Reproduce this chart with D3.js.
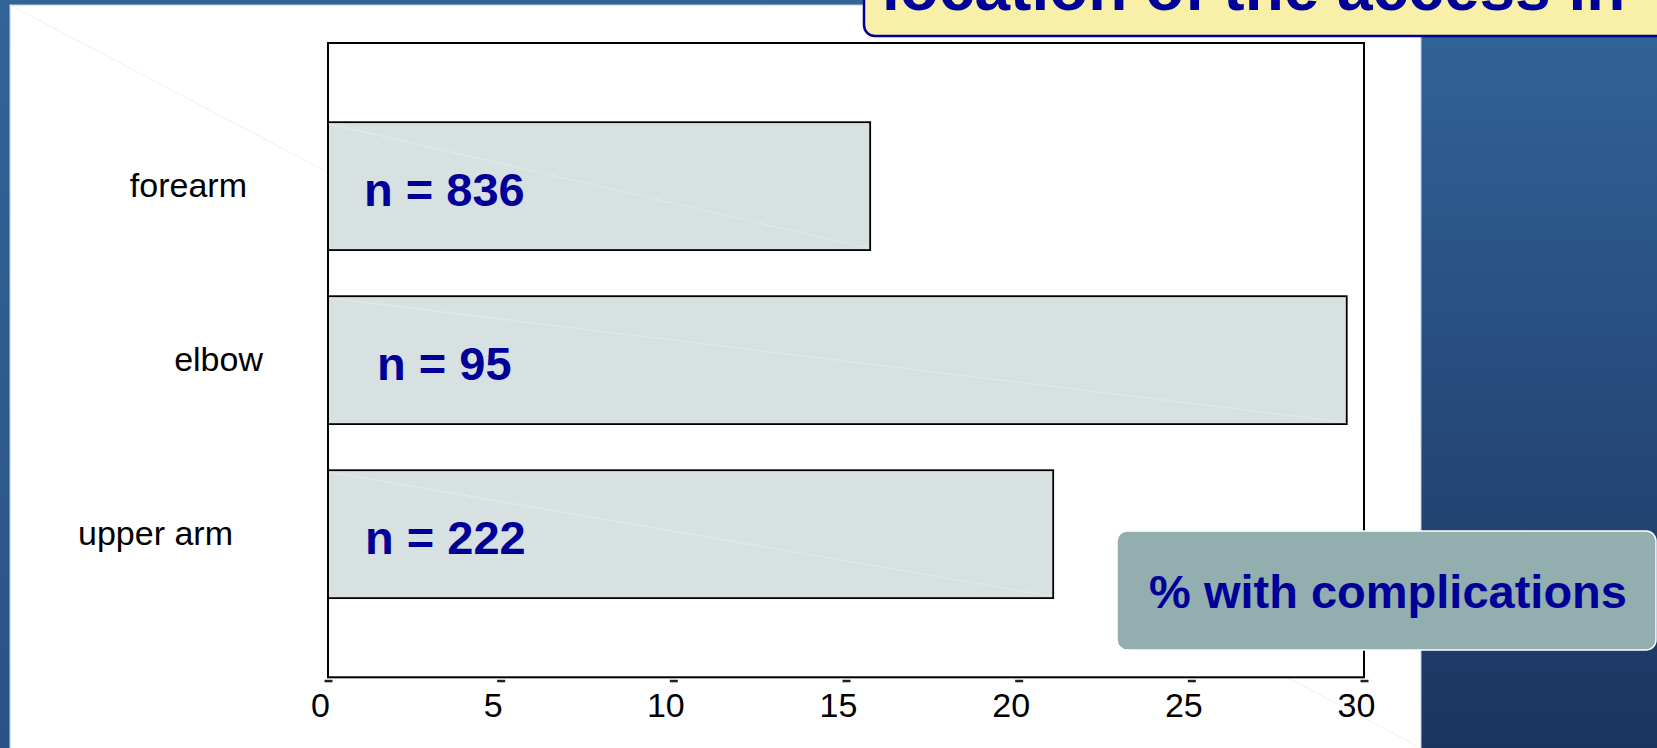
<!DOCTYPE html>
<html>
<head>
<meta charset="utf-8">
<script src="https://cdn.jsdelivr.net/npm/d3@7/dist/d3.min.js"></script>
<style>
  html, body { margin: 0; padding: 0; background: #ffffff; overflow: hidden; }
  svg { display: block; font-family: "Liberation Sans", Arial, sans-serif; }
</style>
</head>
<body>
<svg id="chart" width="1657" height="748"></svg>
<script>
// ---- data ----
const categories = ["forearm", "elbow", "upper arm"];
const values = [15.7, 29.5, 21.0];          // % with complications
const nLabels = ["n = 836", "n = 95", "n = 222"];
const xTicks = [0, 5, 10, 15, 20, 25, 30];
const titleText = "location of the access in";
const axisTitle = "% with complications";

// ---- layout (not data) ----
const W = 1657, H = 748;
const plot = { left: 328, right: 1364, top: 43, bottom: 677.3 };
const catLabelInset = [81, 65, 95];   // distance of label end from plot left
const nLabelInset = [36, 49, 37];     // distance of n-label start from plot left
const darkBlue = "#000099";

const svg = d3.select("#chart");
const defs = svg.append("defs");

const gL = defs.append("linearGradient").attr("id", "gLeft").attr("x1", 0).attr("y1", 0).attr("x2", 0).attr("y2", 1);
gL.append("stop").attr("offset", "0%").attr("stop-color", "#326497");
gL.append("stop").attr("offset", "100%").attr("stop-color", "#2a5385");
const gR = defs.append("linearGradient").attr("id", "gRight").attr("x1", 0).attr("y1", 0).attr("x2", 0).attr("y2", 1);
gR.append("stop").attr("offset", "0%").attr("stop-color", "#32659a");
gR.append("stop").attr("offset", "100%").attr("stop-color", "#1c3461");

// slide background
svg.append("rect").attr("x", 0).attr("y", 0).attr("width", W).attr("height", H).attr("fill", "url(#gLeft)");
svg.append("rect").attr("x", 1421).attr("y", 0).attr("width", W - 1421).attr("height", H).attr("fill", "url(#gRight)");
// white panel
svg.append("rect").attr("x", 10).attr("y", 5).attr("width", 1411).attr("height", H)
  .attr("fill", "#ffffff").attr("stroke", "#bcd0e4").attr("stroke-width", 1);
// faint template diagonal
svg.append("line").attr("x1", 10).attr("y1", 5).attr("x2", 1421).attr("y2", 748)
  .attr("stroke", "#efefef").attr("stroke-width", 1);

// ---- scales ----
const x = d3.scaleLinear().domain([0, 30]).range([plot.left, plot.right]);
const y = d3.scaleBand().domain(categories).range([plot.top, plot.bottom])
  .paddingInner(0.265).paddingOuter(0.455);

// plot background
svg.append("rect")
  .attr("x", plot.left).attr("y", plot.top)
  .attr("width", plot.right - plot.left).attr("height", plot.bottom - plot.top)
  .attr("fill", "#ffffff");

// bars
const bars = svg.append("g").selectAll("g").data(categories).join("g");
bars.append("rect")
  .attr("x", x(0))
  .attr("y", d => y(d))
  .attr("width", (d, i) => x(values[i]) - x(0))
  .attr("height", y.bandwidth())
  .attr("fill", "#d8e1e2")
  .attr("stroke", "#000000")
  .attr("stroke-width", 1.8);
bars.append("line")
  .attr("x1", x(0) + 2).attr("y1", d => y(d) + 2)
  .attr("x2", (d, i) => x(values[i]) - 2).attr("y2", d => y(d) + y.bandwidth() - 2)
  .attr("stroke", "#e3eaea").attr("stroke-width", 1);

// plot frame
svg.append("rect")
  .attr("x", plot.left).attr("y", plot.top)
  .attr("width", plot.right - plot.left).attr("height", plot.bottom - plot.top)
  .attr("fill", "none").attr("stroke", "#000000").attr("stroke-width", 2);

// x axis
const xAxis = svg.append("g")
  .attr("transform", `translate(0,${plot.bottom})`)
  .call(d3.axisBottom(x).tickValues(xTicks).tickFormat(d3.format("d")).tickSize(5).tickPadding(10));
xAxis.select(".domain").remove();
xAxis.selectAll(".tick line").attr("y1", 2.5).attr("y2", 5).attr("stroke", "#222").attr("stroke-width", 8);
xAxis.selectAll(".tick text")
  .attr("y", 15.5).attr("dx", -8)
  .attr("fill", "#000").style("font-size", "34px")
  .style("font-family", "'Liberation Sans', Arial, sans-serif");

// category labels
svg.append("g").selectAll("text").data(categories).join("text")
  .attr("x", (d, i) => plot.left - catLabelInset[i])
  .attr("y", d => y(d) + y.bandwidth() / 2 + 11)
  .attr("text-anchor", "end")
  .attr("fill", "#000")
  .style("font-size", "34px")
  .text(d => d);

// n labels
svg.append("g").selectAll("text").data(categories).join("text")
  .attr("x", (d, i) => plot.left + nLabelInset[i])
  .attr("y", d => y(d) + y.bandwidth() / 2 + 19.5)
  .attr("fill", darkBlue)
  .style("font-size", "47px").style("font-weight", "bold")
  .text((d, i) => nLabels[i]);

// title box (cropped at top)
svg.append("rect").attr("x", 864).attr("y", -40).attr("width", 900).attr("height", 76)
  .attr("rx", 11).attr("fill", "#f8f0a8").attr("stroke", darkBlue).attr("stroke-width", 2.5);
svg.append("text").attr("x", 882).attr("y", 10)
  .attr("fill", darkBlue).style("font-size", "64px").style("font-weight", "bold")
  .text(titleText);

// axis title box
svg.append("rect").attr("x", 1117).attr("y", 531).attr("width", 539).attr("height", 119)
  .attr("rx", 10).attr("fill", "#92aeae").attr("stroke", "#ffffff").attr("stroke-width", 1.5);
svg.append("text").attr("x", 1388).attr("y", 608).attr("text-anchor", "middle")
  .attr("fill", darkBlue).style("font-size", "47px").style("font-weight", "bold")
  .text(axisTitle);
</script>
</body>
</html>
